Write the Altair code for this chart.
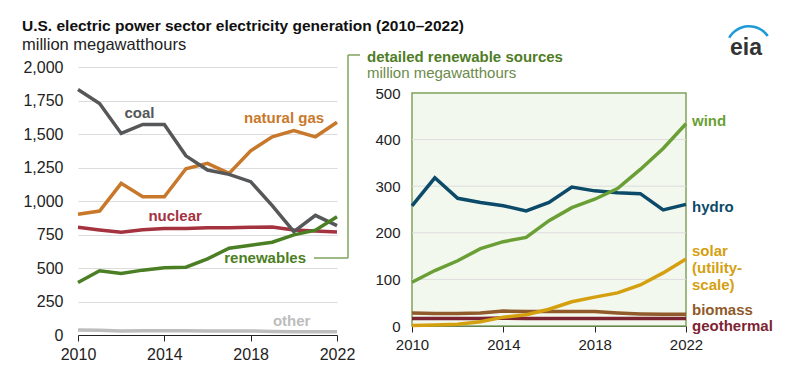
import altair as alt
import pandas as pd

FONT = "Liberation Sans"

years = list(range(2010, 2023))

# U.S. electric power sector generation, million MWh
coal = [1832, 1727, 1504, 1571, 1571, 1337, 1231, 1199, 1144, 965, 772, 893, 816]
natural_gas = [901, 925, 1132, 1032, 1032, 1241, 1281, 1206, 1375, 1479, 1526, 1479, 1588]
nuclear = [804, 784, 767, 786, 794, 794, 801, 801, 804, 806, 784, 777, 769]
renewables = [392, 479, 459, 484, 501, 506, 568, 648, 670, 692, 747, 782, 883]
other = [38, 35, 30, 31, 32, 32, 30, 29, 30, 27, 25, 25, 24]

# detailed renewable sources, million MWh
wind = [94, 119, 140, 166, 181, 190, 226, 254, 272, 295, 336, 381, 434]
hydro = [258, 318, 274, 265, 258, 247, 265, 298, 290, 286, 284, 249, 261]
solar = [1, 2, 4, 9, 19, 24, 36, 52, 62, 71, 88, 114, 144]
biomass = [28, 27, 27, 28, 32, 31, 31, 31, 31, 28, 26, 25, 25]
geothermal = [16, 16, 16, 16, 17, 16, 16, 16, 16, 16, 16, 16, 16]

left_names = ["other", "nuclear", "natural gas", "coal", "renewables"]
left_values = [other, nuclear, natural_gas, coal, renewables]
right_names = ["geothermal", "biomass", "solar", "hydro", "wind"]
right_values = [geothermal, biomass, solar, hydro, wind]

series_names = ["coal", "natural gas", "nuclear", "renewables", "other",
                "wind", "hydro", "solar", "biomass", "geothermal"]
series_colors = ["#555759", "#c8782a", "#a4323f", "#4b7f24", "#bdbdbd",
                 "#6a9f35", "#0b4a68", "#d4a010", "#905a2a", "#7d2433"]

# label anchors (data units)
left_label_text = ["coal", "natural gas", "nuclear", "renewables", "other"]
left_label_year = [2012.85, 2019.55, 2014.5, 2018.67, 2019.9]
left_label_value = [1653, 1623, 888, 575, 106]

right_label_text = ["wind", "hydro", "solar", "(utility-", "scale)", "biomass", "geothermal"]
right_label_series = ["wind", "hydro", "solar", "solar", "solar", "biomass", "geothermal"]
right_label_value = [439, 256, 161, 124, 88, 34, -1]

left_ticks = [0, 250, 500, 750, 1000, 1250, 1500, 1750, 2000]
right_ticks = [0, 100, 200, 300, 400, 500]
year_ticks = [2010, 2014, 2018, 2022]

color_scale = alt.Scale(domain=series_names, range=series_colors)
LW, LH = 259, 268
RW, RH = 274, 259
GREEN_LINE = "#7fa35c"

# ---------------- left panel ----------------
left_df = pd.DataFrame({
    "year": years * len(left_names),
    "series": [n for n in left_names for _ in years],
    "value": [v for vals in left_values for v in vals],
})

x_scale = alt.Scale(domain=[2010, 2022], nice=False, zero=False)
lx_axis = alt.Axis(values=year_ticks, format="d", title=None, grid=False,
                   domainColor="#222", tickColor="#222", tickSize=6,
                   labelPadding=5, labelFontSize=16, labelColor="#222",
                   labelFont=FONT, labelFlush=False)
ly_scale = alt.Scale(domain=[0, 2000], nice=False, zero=True)
ly_axis = alt.Axis(values=left_ticks, format=",d", title=None, domain=False,
                   ticks=False, labelPadding=15, labelFontSize=16,
                   labelColor="#222", labelFont=FONT, labelOverlap=False,
                   grid=True, gridColor="#dcdcdc", gridWidth=1)

left_layers = []
for n in left_names:
    left_layers.append(
        alt.Chart(left_df[left_df["series"] == n]).mark_line(strokeWidth=3.5).encode(
            x=alt.X("year:Q", scale=x_scale, axis=lx_axis),
            y=alt.Y("value:Q", scale=ly_scale, axis=ly_axis),
            color=alt.Color("series:N", scale=color_scale, legend=None)
        )
    )

left_lab_df = pd.DataFrame({"label": left_label_text, "series": left_label_text,
                            "year": left_label_year, "value": left_label_value})
left_labels = alt.Chart(left_lab_df).mark_text(
    font=FONT, fontSize=15, fontWeight="bold", align="center", baseline="middle"
).encode(x=alt.X("year:Q", scale=x_scale, axis=lx_axis),
         y=alt.Y("value:Q", scale=ly_scale, axis=ly_axis),
         text="label:N",
         color=alt.Color("series:N", scale=color_scale, legend=None))

dummy = pd.DataFrame({"a": [0]})
br_h = alt.Chart(dummy).mark_rule(color=GREEN_LINE, strokeWidth=1.5).encode(
    x=alt.value(236), x2=alt.value(270), y=alt.value(191))
br_v = alt.Chart(dummy).mark_rule(color=GREEN_LINE, strokeWidth=1.5).encode(
    x=alt.value(270), y=alt.value(-12), y2=alt.value(191))
br_t = alt.Chart(dummy).mark_rule(color=GREEN_LINE, strokeWidth=1.5).encode(
    x=alt.value(270), x2=alt.value(282), y=alt.value(-12))

title_txt = alt.Chart(dummy).mark_text(
    font=FONT, fontSize=15.5, fontWeight="bold", align="left", baseline="middle",
    color="#111", text="U.S. electric power sector electricity generation (2010\u20132022)"
).encode(x=alt.value(-56), y=alt.value(-41))
subtitle_txt = alt.Chart(dummy).mark_text(
    font=FONT, fontSize=16.5, align="left", baseline="middle",
    color="#222", text="million megawatthours"
).encode(x=alt.value(-56), y=alt.value(-22))

left = alt.layer(*left_layers, left_labels, br_h, br_v, br_t, title_txt, subtitle_txt
                 ).properties(width=LW, height=LH)

# ---------------- right panel ----------------
right_df = pd.DataFrame({
    "year": years * len(right_names),
    "series": [n for n in right_names for _ in years],
    "value": [v for vals in right_values for v in vals],
})

rx_axis = alt.Axis(values=year_ticks, format="d", title=None, grid=False,
                   domainColor="#222", tickColor="#222", tickSize=6,
                   labelPadding=5, labelFontSize=15, labelColor="#222",
                   labelFont=FONT, labelFlush=False)
ry_scale = alt.Scale(domain=[0, 500], range=[RH, 26], nice=False)
ry_axis = alt.Axis(values=right_ticks, format="d", title=None, domain=False,
                   ticks=False, grid=False, labelPadding=12, labelFontSize=15,
                   labelColor="#222", labelFont=FONT, labelOverlap=False)
rx = alt.X("year:Q", scale=x_scale, axis=rx_axis)
ry = alt.Y("value:Q", scale=ry_scale, axis=ry_axis)

bg_df = pd.DataFrame({"x0": [2010], "x1": [2022], "y0": [0], "y1": [500]})
bg = alt.Chart(bg_df).mark_rect(fill="#f3f8ee", stroke=GREEN_LINE, strokeWidth=1.5).encode(
    x=alt.X("x0:Q", scale=x_scale, axis=rx_axis),
    x2="x1:Q",
    y=alt.Y("y0:Q", scale=ry_scale, axis=ry_axis),
    y2="y1:Q",
)
grid_df = pd.DataFrame({"x0": [2010] * 4, "x1": [2022] * 4, "v": right_ticks[1:5]})
grid = alt.Chart(grid_df).mark_rule(color="#dcdcdc", strokeWidth=1).encode(
    x=alt.X("x0:Q", scale=x_scale, axis=rx_axis), x2="x1:Q",
    y=alt.Y("v:Q", scale=ry_scale, axis=ry_axis))

right_layers = []
for n in right_names:
    right_layers.append(
        alt.Chart(right_df[right_df["series"] == n]).mark_line(strokeWidth=3.5).encode(
            x=rx, y=ry, color=alt.Color("series:N", scale=color_scale, legend=None)
        )
    )

right_lab_df = pd.DataFrame({"label": right_label_text, "series": right_label_series,
                             "year": [2022] * len(right_label_text),
                             "value": right_label_value})
right_labels = alt.Chart(right_lab_df).mark_text(
    font=FONT, fontSize=15, fontWeight="bold", align="left", baseline="middle", dx=6
).encode(x=rx, y=ry, text="label:N",
         color=alt.Color("series:N", scale=color_scale, legend=None))

head1 = alt.Chart(dummy).mark_text(
    font=FONT, fontSize=15, fontWeight="bold", align="left", baseline="middle",
    color="#4f7d26", text="detailed renewable sources"
).encode(x=alt.value(-45), y=alt.value(-10))
head2 = alt.Chart(dummy).mark_text(
    font=FONT, fontSize=15, align="left", baseline="middle",
    color="#6b8a4a", text="million megawatthours"
).encode(x=alt.value(-45), y=alt.value(6))

logo_arc = alt.Chart(dummy).mark_arc(
    innerRadius=21.5, outerRadius=24, theta=5.23, theta2=7.25, color="#1e9bd7"
).encode(x=alt.value(337), y=alt.value(-18))
logo_txt = alt.Chart(dummy).mark_text(
    font=FONT, fontSize=23, fontWeight="bold", align="center", baseline="alphabetic",
    color="#333333", text="eia"
).encode(x=alt.value(334), y=alt.value(-12))

right = alt.layer(bg, grid, *right_layers, right_labels, head1, head2, logo_arc, logo_txt
                  ).properties(width=RW, height=RH)

chart = alt.hconcat(left, right, spacing=75, bounds="flush").resolve_scale(
    x="independent", y="independent"
).properties(
    padding={"left": 14, "top": 11, "right": 5, "bottom": 5}
).configure_view(stroke=None)

chart.save("out.html", embed_options={"renderer": "svg", "actions": False})
